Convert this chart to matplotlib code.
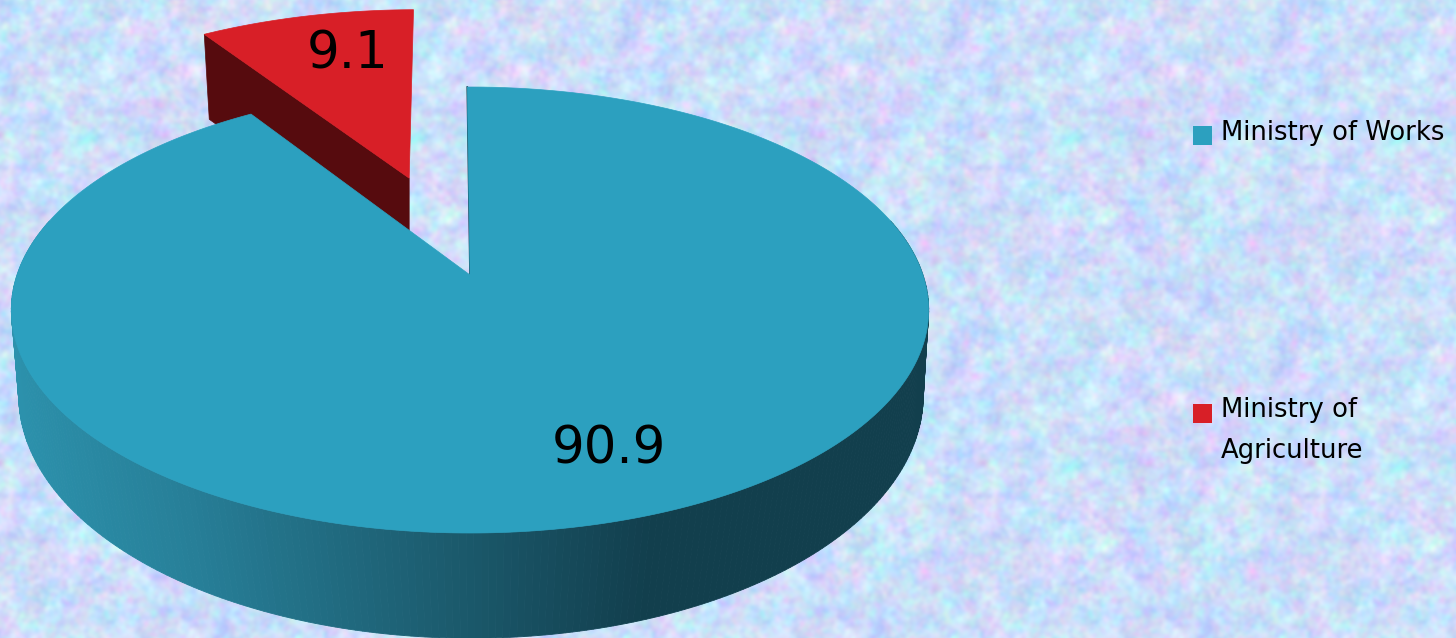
import numpy as np
import matplotlib
matplotlib.use('Agg')
import matplotlib.pyplot as plt
from matplotlib.patches import Polygon, Rectangle

# data
categories = ['Ministry of Works', 'Ministry of\nAgriculture']
shares = [90.9, 9.1]
colors = ['#2ca0bf', '#d81f27']
side_red = '#560b0e'

# where the tilted disc lands on the page (pixels)
CX, CY = 470, 275
A, B, K = 453, 217.5, 0.157
LOW_X, LOW_Y = 471, 371
LOW_A, LOW_B, LOW_K = 450, 240.5, 0.1
EXPLODE = 0.5
RED_RADIUS = 1.03
RED_TURN = -0.15
RED_DROP = 85
START = -0.4


def project(u, v, cx=CX, cy=CY, a=A, b=B, k=K):
    w = 1 + k * v
    return cx + a * u / w, cy - b * v / w


def rim(t0, t1, n=200):
    t = np.radians(np.linspace(t0, t1, n))
    return np.sin(t), np.cos(t)


def side_color(x):
    # shading along the wall of the pie
    xs = [15, 200, 400, 640, 935]
    r = np.interp(x, xs, [0x2c, 0x27, 0x1e, 0x12, 0x12])
    g = np.interp(x, xs, [0x92, 0x7f, 0x62, 0x3f, 0x3f])
    b = np.interp(x, xs, [0xad, 0x98, 0x76, 0x4d, 0x4d])
    return (r / 255, g / 255, b / 255)


def make_background(w, h):
    # mottled wallpaper, one tile repeated with visible seams
    rng = np.random.default_rng(7)
    size = 328
    fx = np.fft.fftfreq(size)[:, None]
    fy = np.fft.fftfreq(size)[None, :]
    f = np.sqrt(fx ** 2 + fy ** 2)
    tile = np.zeros((size, size, 3))
    base = [203, 222, 250]
    amp = [8, 7, 3]
    for c in range(3):
        layer = np.zeros((size, size))
        for scale, weight in ((0.10, 0.8), (0.035, 1.0)):
            noise = np.fft.fft2(rng.normal(size=(size, size)))
            s = np.fft.ifft2(noise * np.exp(-(f / scale) ** 2)).real
            layer += weight * s / s.std()
        tile[:, :, c] = base[c] + amp[c] * layer
    rows = np.tile(tile, (h // size + 2, w // size + 2, 1))
    off = size - 33
    return np.clip(rows[off:off + h, 60:60 + w], 0, 255) / 255


fig = plt.figure(figsize=(14.56, 6.38), dpi=100)
ax = fig.add_axes([0, 0, 1, 1])
ax.set_xlim(0, 1456)
ax.set_ylim(638, 0)
ax.axis('off')
ax.imshow(make_background(1456, 638), extent=(0, 1456, 638, 0), aspect='auto', zorder=0)

end_blue = START + 360 * shares[0] / 100
end_red = START + 360

# red slice, pulled out along its middle direction
mid = np.radians((end_blue + end_red) / 2)
du, dv = EXPLODE * np.sin(mid), EXPLODE * np.cos(mid)
u, v = rim(end_blue + RED_TURN, end_red + RED_TURN)
rx, ry = project(RED_RADIUS * u + du, RED_RADIUS * v + dv)
ax_, ay_ = project(du, dv)
wall = [(rx[0], ry[0]), (ax_, ay_), (ax_, ay_ + RED_DROP), (rx[0] + 5, ry[0] + RED_DROP)]
ax.add_patch(Polygon(wall, closed=True, fc=side_red, ec=side_red, lw=0.5, zorder=2))
top = np.column_stack([np.r_[ax_, rx], np.r_[ay_, ry]])
ax.add_patch(Polygon(top, closed=True, fc=colors[1], ec=colors[1], lw=0.5, zorder=3))

# blue wall, thin strips shaded by position
u, v = rim(75, 285, 260)
x1, y1 = project(u, v)
x2, y2 = project(u, v, LOW_X, LOW_Y, LOW_A, LOW_B, LOW_K)
for i in range(len(u) - 1):
    quad = [(x1[i], y1[i]), (x1[i + 1], y1[i + 1]), (x2[i + 1], y2[i + 1]), (x2[i], y2[i])]
    col = side_color((x2[i] + x2[i + 1]) / 2)
    ax.add_patch(Polygon(quad, closed=True, fc=col, ec=col, lw=0.6, zorder=4))

# blue top
u, v = rim(START, end_blue, 400)
bx, by = project(u, v)
top = np.column_stack([np.r_[CX, bx], np.r_[CY, by]])
ax.plot([bx[0], CX], [by[0], CY], color='#123e4c', lw=1.2, zorder=5)
ax.add_patch(Polygon(top, closed=True, fc=colors[0], ec=colors[0], lw=0.5, zorder=6))

# value labels
ax.text(348, 68.5, str(shares[1]), fontsize=37, color='black', ha='center', va='baseline', zorder=7)
ax.text(609, 463, str(shares[0]), fontsize=37, color='black', ha='center', va='baseline', zorder=7)

# legend
ax.add_patch(Rectangle((1193, 126), 19, 19, fc=colors[0], ec='none', zorder=7))
ax.add_patch(Rectangle((1193, 404), 19, 19, fc=colors[1], ec='none', zorder=7))
ax.text(1221, 140, categories[0], fontsize=18.6, color='black', va='baseline', zorder=7)
name1, name2 = categories[1].split('\n')
ax.text(1221, 417, name1, fontsize=18.6, color='black', va='baseline', zorder=7)
ax.text(1221, 458, name2, fontsize=18.6, color='black', va='baseline', zorder=7)

fig.savefig('out.png', dpi=100)
